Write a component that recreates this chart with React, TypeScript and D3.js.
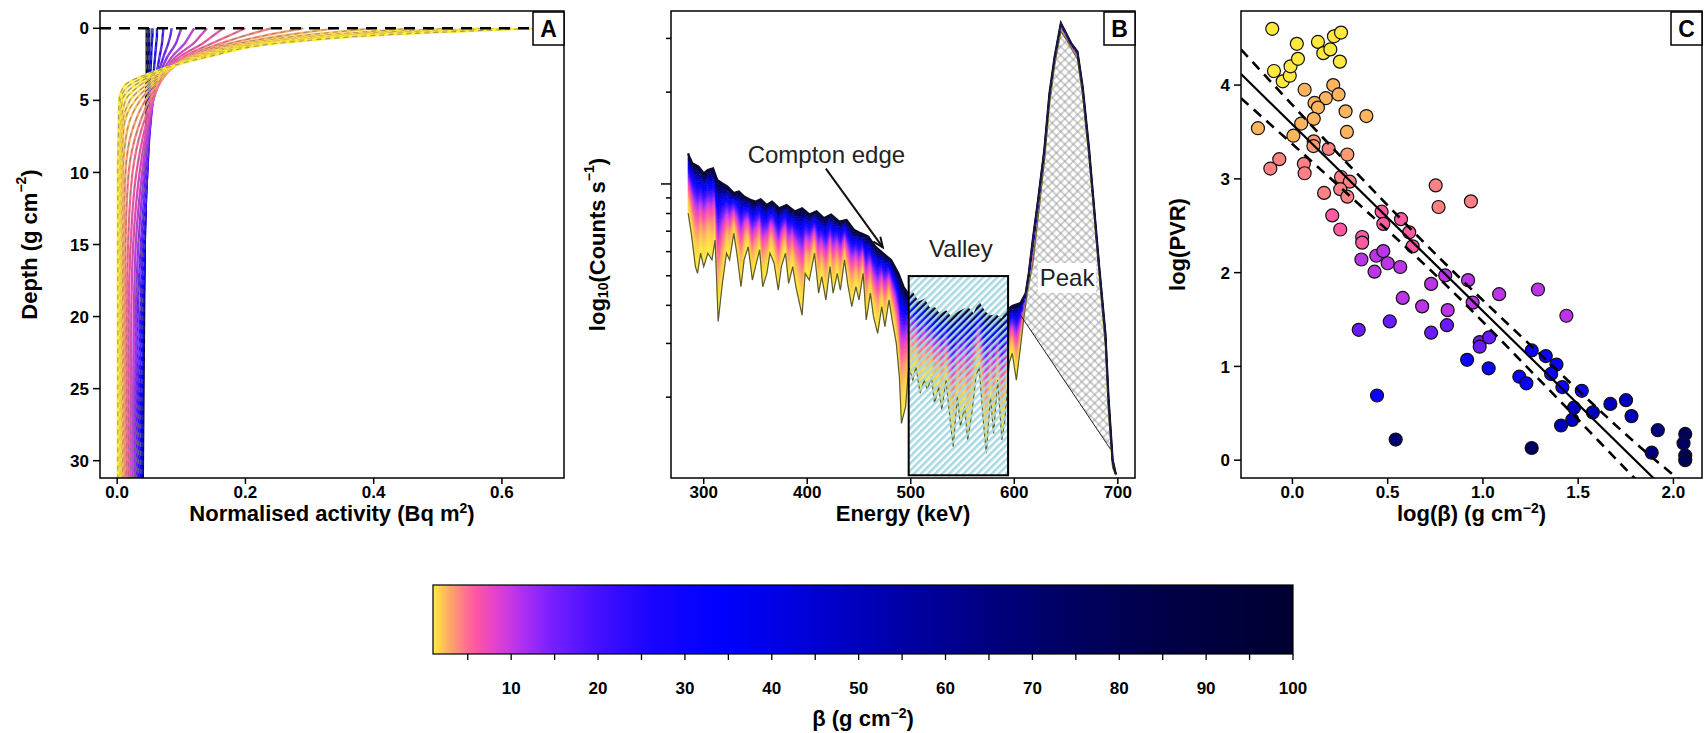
import React from "react";
import * as d3 from "d3";

const WIDTH = 1706;
const HEIGHT = 733;
const FONT = "'Liberation Sans', Arial, Helvetica, sans-serif";

// frame geometry shared by the three panels
const TOP = 11;
const BOTTOM = 478;
const A = { left: 100, right: 564 };
const B = { left: 671, right: 1135 };
const C = { left: 1241, right: 1702 };

// colour ramp of beta
const rampBeta = [1, 2.7, 4.4, 6, 8.4, 11.2, 14.5, 19.3, 26, 33.6, 44.4, 54.6, 64.8, 75, 85, 100];
const rampColor = [
  "#ffec3d", "#fdb060", "#ff7a8a", "#ff55a5", "#e040d0", "#b030f0", "#7a20ff", "#4a10ff",
  "#1a05ff", "#0000ff", "#0000d8", "#0000a8", "#000080", "#000060", "#000048", "#000030",
];

// ---- panel A: depth profiles
const depthGrid = [0, 0.5, 1, 2, 3, 4, 5, 7, 10, 15, 20, 31.2];
const profileBeta = [100, 70, 45, 30, 22, 17, 13, 10, 8, 6.5, 5, 4, 3.2, 2.5, 2, 1.75, 1.5, 1.3, 1.15, 1];
const profileActivity = [
  [0.046, 0.046, 0.046, 0.046, 0.046, 0.045, 0.045, 0.045, 0.044, 0.043, 0.042, 0.04],
  [0.05, 0.05, 0.05, 0.049, 0.049, 0.048, 0.048, 0.047, 0.045, 0.043, 0.041, 0.039],
  [0.055, 0.055, 0.054, 0.053, 0.052, 0.051, 0.05, 0.048, 0.046, 0.043, 0.04, 0.038],
  [0.062, 0.062, 0.061, 0.059, 0.057, 0.055, 0.053, 0.05, 0.047, 0.042, 0.039, 0.036],
  [0.072, 0.071, 0.07, 0.066, 0.062, 0.058, 0.055, 0.051, 0.047, 0.04, 0.036, 0.033],
  [0.085, 0.083, 0.08, 0.072, 0.065, 0.06, 0.056, 0.051, 0.045, 0.037, 0.032, 0.03],
  [0.1, 0.096, 0.092, 0.078, 0.068, 0.061, 0.056, 0.05, 0.042, 0.033, 0.029, 0.027],
  [0.12, 0.113, 0.106, 0.085, 0.071, 0.062, 0.056, 0.048, 0.039, 0.029, 0.026, 0.024],
  [0.14, 0.13, 0.12, 0.091, 0.074, 0.063, 0.056, 0.046, 0.035, 0.025, 0.022, 0.021],
  [0.165, 0.15, 0.135, 0.097, 0.077, 0.064, 0.056, 0.043, 0.03, 0.021, 0.018, 0.018],
  [0.2, 0.175, 0.15, 0.103, 0.079, 0.064, 0.054, 0.038, 0.024, 0.017, 0.015, 0.015],
  [0.24, 0.2, 0.165, 0.108, 0.08, 0.063, 0.05, 0.032, 0.018, 0.013, 0.012, 0.012],
  [0.29, 0.23, 0.18, 0.112, 0.08, 0.06, 0.044, 0.024, 0.013, 0.01, 0.01, 0.01],
  [0.34, 0.26, 0.195, 0.115, 0.078, 0.055, 0.036, 0.016, 0.009, 0.008, 0.008, 0.008],
  [0.4, 0.29, 0.21, 0.118, 0.077, 0.05, 0.028, 0.01, 0.007, 0.006, 0.006, 0.006],
  [0.46, 0.32, 0.22, 0.12, 0.074, 0.043, 0.02, 0.007, 0.005, 0.005, 0.005, 0.005],
  [0.52, 0.34, 0.23, 0.125, 0.071, 0.034, 0.013, 0.005, 0.004, 0.004, 0.004, 0.004],
  [0.57, 0.36, 0.24, 0.13, 0.068, 0.026, 0.008, 0.004, 0.003, 0.003, 0.003, 0.003],
  [0.615, 0.38, 0.25, 0.135, 0.064, 0.018, 0.005, 0.003, 0.002, 0.002, 0.002, 0.002],
  [0.655, 0.4, 0.26, 0.14, 0.058, 0.011, 0.003, 0.002, 0.001, 0.001, 0.001, 0.001],
];
const depthTicks = [0, 5, 10, 15, 20, 25, 30];
const activityTicks = [0, 0.2, 0.4, 0.6];

// ---- panel B: spectra envelopes (log10 counts)
const topEnergy = [
  285, 286, 289, 295, 300, 304, 309, 313, 318, 323, 329, 334, 339, 345, 350, 355, 361, 366, 373, 380,
  388, 395, 402, 409, 416, 423, 431, 438, 445, 452, 459, 466, 473, 481, 488, 493, 497, 502, 507, 513,
  518, 523, 528, 534, 539, 545, 550, 555, 561, 566, 571, 577, 582, 588, 593, 598, 606, 611, 614, 618,
  623, 629, 634, 639, 645, 650, 655, 661, 666, 672, 677, 682, 688, 691, 695, 698,
];
const topLog = [
  0.1, 0.09, 0.068, 0.057, 0.035, 0.046, 0.051, 0.013, 0.002, -0.009, -0.03, -0.025, -0.041, -0.052, -0.058, -0.05, -0.069, -0.058, -0.08, -0.069,
  -0.09, -0.08, -0.1, -0.09, -0.112, -0.1, -0.123, -0.118, -0.15, -0.162, -0.173, -0.206, -0.227, -0.249, -0.293, -0.337, -0.358, -0.36, -0.39, -0.38,
  -0.41, -0.408, -0.43, -0.419, -0.44, -0.424, -0.415, -0.408, -0.43, -0.391, -0.42, -0.435, -0.43, -0.446, -0.413, -0.4, -0.39, -0.358, -0.293, -0.18,
  -0.052, 0.111, 0.297, 0.417, 0.527, 0.494, 0.461, 0.434, 0.319, 0.122, -0.074, -0.271, -0.49, -0.7, -0.905, -0.95,
];
const bottomEnergy = [
  285, 288, 292, 294, 297, 300, 304, 308, 311, 314, 318, 322, 325, 329, 332, 336, 339, 343, 347, 350,
  354, 357, 361, 364, 368, 372, 375, 379, 382, 386, 389, 395, 398, 402, 407, 411, 414, 418, 422, 425,
  429, 432, 436, 439, 443, 447, 450, 454, 457, 461, 464, 468, 472, 475, 479, 482, 486, 489, 491, 495,
  498, 502, 505, 509, 513, 516, 520, 523, 527, 530, 534, 538, 541, 545, 548, 552, 555, 559, 563, 566,
  570, 573, 577, 580, 584, 588, 591, 595, 598, 602, 606, 609, 613, 618, 623, 629, 634, 639, 645, 650,
  655, 661, 666, 672, 677, 682, 688, 691, 695, 698,
];
const bottomLog = [
  -0.096, -0.162, -0.271, -0.293, -0.227, -0.271, -0.227, -0.249, -0.184, -0.451, -0.326, -0.227, -0.249, -0.162, -0.227, -0.337, -0.249, -0.206, -0.315, -0.271,
  -0.216, -0.337, -0.293, -0.227, -0.26, -0.348, -0.271, -0.227, -0.326, -0.271, -0.337, -0.43, -0.293, -0.315, -0.227, -0.358, -0.304, -0.38, -0.271, -0.358,
  -0.293, -0.348, -0.249, -0.326, -0.402, -0.337, -0.38, -0.293, -0.446, -0.358, -0.435, -0.49, -0.402, -0.468, -0.38, -0.446, -0.522, -0.632, -0.785, -0.73,
  -0.6, -0.643, -0.6, -0.686, -0.643, -0.675, -0.632, -0.72, -0.665, -0.741, -0.643, -0.774, -0.861, -0.697, -0.796, -0.73, -0.839, -0.752, -0.632, -0.6,
  -0.774, -0.883, -0.697, -0.818, -0.643, -0.839, -0.774, -0.588, -0.555, -0.643, -0.533, -0.446, -0.348, -0.26, -0.11, 0.07, 0.26, 0.39, 0.5, 0.475,
  0.445, 0.41, 0.29, 0.09, -0.1, -0.3, -0.53, -0.75, -0.93, -0.955,
];
const valleyEnergy = [498, 594];
const valleyLog = [-0.955, -0.302];
const peakLeft = [606, -0.43];
const peakRight = [693, -0.87];
const countTicks = [0.2, 0.3, 0.4, 0.5, 0.6, 0.7, 0.8, 0.9, 1, 2, 3];
const energyTicks = [300, 400, 500, 600, 700];

// ---- panel C: PVR against beta
const logBeta = [
  -0.106, -0.097, -0.051, -0.014, -0.01, 0.029, 0.023, 0.134, 0.162, 0.199, 0.218, 0.255, 0.249,
  0.064, 0.214, 0.242, 0.175, 0.116, 0.134, 0.112, 0.046, 0.279, 0.388, -0.181, 0.005, 0.286,
  0.112, 0.11, 0.19, 0.288, -0.069, -0.116, 0.06, 0.064, 0.255, 0.301, 0.166, 0.251, 0.288, 0.752, 0.767, 0.937,
  0.209, 0.251, 0.468, 0.477, 0.57, 0.613, 0.631, 0.366, 0.366,
  0.362, 0.44, 0.477, 0.5, 0.431, 0.566, 0.802, 0.922, 0.728, 0.579, 0.946, 1.085, 1.289, 0.681, 0.815, 1.438,
  0.511, 0.811, 0.728, 0.348, 0.983, 1.033, 0.983,
  0.917, 1.03, 1.256, 1.33, 1.386, 1.358, 1.191, 1.228, 1.417, 1.519, 0.444,
  1.478, 1.469, 1.41, 1.577, 1.669, 1.751, 1.78, 1.918, 1.886, 2.062, 2.053, 2.062, 2.062, 0.542, 1.256,
];
const logPVR = [
  4.6, 4.15, 4.04, 4.1, 4.2, 4.28, 4.44, 4.46, 4.34, 4.38, 4.52, 4.56, 4.25,
  3.95, 4.0, 3.9, 3.86, 3.81, 3.76, 3.64, 3.59, 3.72, 3.67, 3.54, 3.46, 3.5,
  3.4, 3.35, 3.32, 3.26, 3.21, 3.11, 3.16, 3.06, 3.02, 2.97, 2.85, 2.89, 2.81, 2.93, 2.7, 2.76,
  2.61, 2.46, 2.65, 2.52, 2.57, 2.43, 2.28, 2.38, 2.32,
  2.14, 2.18, 2.23, 2.1, 2.01, 2.06, 1.97, 1.92, 1.88, 1.73, 1.68, 1.77, 1.82, 1.64, 1.6, 1.54,
  1.48, 1.44, 1.36, 1.39, 1.26, 1.31, 1.21,
  1.07, 0.98, 1.17, 1.11, 1.02, 0.92, 0.89, 0.82, 0.78, 0.74, 0.69,
  0.56, 0.43, 0.37, 0.51, 0.6, 0.64, 0.47, 0.32, 0.08, 0.28, 0.18, 0.05, 0.0, 0.22, 0.13,
];
const pointBeta = [
  1.1, 1.1, 1.1, 1.1, 1.1, 1.1, 1.1, 1.1, 1.1, 1.1, 1.1, 1.1, 1.1,
  2.6, 2.6, 2.6, 2.6, 2.6, 2.6, 2.6, 2.6, 2.6, 2.6, 2.6, 2.6, 2.6,
  3.4, 3.4, 4.2, 3.4, 4.2, 4.2, 4.2, 4.2, 4.2, 4.2, 4.2, 4.2, 4.2, 4.2, 4.2, 4.2,
  5.8, 5.8, 5.8, 5.8, 5.8, 5.8, 5.8, 5.8, 5.8,
  10.5, 10.5, 10.5, 10.5, 10.5, 10.5, 10.5, 10.5, 10.5, 10.5, 10.5, 10.5, 10.5, 10.5, 10.5, 10.5,
  16, 16, 16, 16, 16, 16, 16,
  30, 30, 30, 30, 30, 30, 30, 30, 30, 30, 30,
  50, 50, 50, 50, 50, 50, 50, 65, 65, 75, 75, 75, 80, 70, 75,
];
const fitIntercept = 3.58;
const fitSlope = -1.99;
const bandX = [-0.27, 0.3, 0.8, 1.3, 1.9, 2.15];
const bandUpper = [4.38, 3.14, 2.1, 1.13, 0.01, -0.4];
const bandLower = [3.86, 2.82, 1.88, 0.85, -0.41, -0.93];
const pvrTicks = [0, 1, 2, 3, 4];
const logBetaTicks = [0, 0.5, 1, 1.5, 2];

// ---- colour bar
const barTicks = d3.range(5, 101, 5);

const beta = d3
  .scaleLinear<string>()
  .domain(rampBeta)
  .range(rampColor)
  .interpolate(d3.interpolateRgb)
  .clamp(true);

const TICK_FONT = { fontFamily: FONT, fontWeight: 700, fontSize: 17 } as const;
const TITLE_FONT = { fontFamily: FONT, fontWeight: 700, fontSize: 22 } as const;
const NOTE_FONT = { fontFamily: FONT, fontSize: 24, fill: "#222" } as const;

function Sup({ children }: { children: string }) {
  return (
    <>
      <tspan dy="-8" fontSize="14">
        {children}
      </tspan>
      <tspan dy="8">)</tspan>
    </>
  );
}

function Frame({ left, right, label }: { left: number; right: number; label: string }) {
  return (
    <g>
      <rect x={left} y={TOP} width={right - left} height={BOTTOM - TOP} fill="none" stroke="#000" strokeWidth={1.5} />
      <rect x={right - 31} y={TOP + 1} width={31} height={33} fill="#fff" stroke="#000" strokeWidth={1.5} />
      <text x={right - 15.5} y={TOP + 26} textAnchor="middle" style={{ ...TITLE_FONT, fontSize: 23 }}>
        {label}
      </text>
    </g>
  );
}

function LeftAxis({ x, scale, ticks, fmt }: any) {
  return (
    <g>
      {ticks.map((t: number) => (
        <g key={t}>
          <line x1={x - 7} x2={x} y1={scale(t)} y2={scale(t)} stroke="#000" strokeWidth={1.5} />
          <text x={x - 11} y={scale(t)} dy="0.36em" textAnchor="end" style={TICK_FONT}>
            {fmt(t)}
          </text>
        </g>
      ))}
    </g>
  );
}

function BottomAxis({ y, scale, ticks, fmt }: any) {
  return (
    <g>
      {ticks.map((t: number) => (
        <g key={t}>
          <line x1={scale(t)} x2={scale(t)} y1={y} y2={y + 6} stroke="#000" strokeWidth={1.5} />
          <text x={scale(t)} y={y + 20} textAnchor="middle" style={TICK_FONT}>
            {fmt(t)}
          </text>
        </g>
      ))}
    </g>
  );
}

function PanelA() {
  const x = d3.scaleLinear().domain([-0.0268, 0.6968]).range([A.left, A.right]);
  const y = d3.scaleLinear().domain([-1.2, 31.2]).range([TOP, BOTTOM]);
  const line = d3
    .line<number>()
    .x((d) => x(d))
    .y((d, i) => y(depthGrid[i]))
    .curve(d3.curveMonotoneY);

  return (
    <g>
      <defs>
        <clipPath id="clipA">
          <rect x={A.left} y={TOP} width={A.right - A.left} height={BOTTOM - TOP} />
        </clipPath>
      </defs>
      <g clipPath="url(#clipA)">
        {profileActivity.map((p, i) => (
          <g key={i}>
            <path d={line(p) || ""} fill="none" stroke={beta(profileBeta[i])} strokeWidth={2.3} />
            <path d={line(p) || ""} fill="none" stroke="#777" strokeOpacity={0.7} strokeWidth={1.1} strokeDasharray="5 4" />
          </g>
        ))}
        <line x1={A.left} x2={A.right} y1={y(0)} y2={y(0)} stroke="#000" strokeWidth={2.6} strokeDasharray="11 8" />
      </g>
      <LeftAxis x={A.left} scale={y} ticks={depthTicks} fmt={(t: number) => String(t)} />
      <BottomAxis y={BOTTOM} scale={x} ticks={activityTicks} fmt={d3.format(".1f")} />
      <text x={(A.left + A.right) / 2} y={BOTTOM + 43} textAnchor="middle" style={TITLE_FONT}>
        Normalised activity (Bq m<Sup>2</Sup>
      </text>
      <text transform={`translate(${A.left - 71},${(TOP + BOTTOM) / 2}) rotate(-90)`} textAnchor="middle" dominantBaseline="central" style={TITLE_FONT}>
        Depth (g cm<Sup>−2</Sup>
      </text>
      <Frame left={A.left} right={A.right} label="A" />
    </g>
  );
}

function PanelB() {
  const x = d3.scaleLinear().domain([268.4, 716.6]).range([B.left, B.right]);
  const y = d3.scaleLinear().domain([-0.964, 0.567]).range([BOTTOM, TOP]);
  const topAt = d3.scaleLinear().domain(topEnergy).range(topLog).clamp(true);
  const bottomAt = d3.scaleLinear().domain(bottomEnergy).range(bottomLog).clamp(true);
  const grid = Array.from(new Set([...topEnergy, ...bottomEnergy])).sort((a, b) => a - b);
  const level = (f: number) =>
    grid.map((e) => [x(e), y(bottomAt(e) + f * (topAt(e) - bottomAt(e)))] as [number, number]);

  // colour band between the lightest (yellow) and darkest spectrum
  const K = 40;
  const layers = d3.range(K).map((k) => {
    const upper = level((k + 1) / K);
    const lower = level(k / K).reverse();
    const f = (k + 0.5) / K;
    return { d: d3.line()([...upper, ...lower]) + "Z", c: beta(Math.pow(10, 2 * Math.pow(f, 1.35))) };
  });

  const pathOf = (es: number[], vs: number[]) =>
    d3.line<number>().x((e) => x(e)).y((e, i) => y(vs[i]))(es) || "";

  const peakPts: [number, number][] = [
    [x(peakLeft[0]), y(peakLeft[1])],
    ...topEnergy
      .map((e, i) => [e, topLog[i]])
      .filter(([e]) => e > peakLeft[0] && e < peakRight[0])
      .map(([e, v]) => [x(e), y(v)] as [number, number]),
    [x(peakRight[0]), y(peakRight[1])],
  ];

  const vx0 = x(valleyEnergy[0]);
  const vx1 = x(valleyEnergy[1]);
  const vy0 = y(valleyLog[1]);
  const vy1 = y(valleyLog[0]);

  const ax0 = x(418), ay0 = y(0.05);
  const ax1 = x(473), ay1 = y(-0.208);
  const ang = Math.atan2(ay1 - ay0, ax1 - ax0);
  const head = 11;
  const px = x(651), py = y(-0.308);

  return (
    <g>
      <defs>
        <clipPath id="clipB">
          <rect x={B.left} y={TOP} width={B.right - B.left} height={BOTTOM - TOP} />
        </clipPath>
        <pattern id="valleyHatch" patternUnits="userSpaceOnUse" width="5" height="5" patternTransform="rotate(45)">
          <rect width="2.6" height="5" fill="#a8d9e3" />
        </pattern>
        <pattern id="peakHatch" patternUnits="userSpaceOnUse" width="6" height="6" patternTransform="rotate(45)">
          <path d="M3 0V6M0 3H6" stroke="#8a8a8a" strokeWidth="0.8" />
        </pattern>
      </defs>
      <g clipPath="url(#clipB)">
        {layers.map((l, i) => (
          <path key={i} d={l.d} fill={l.c} stroke={l.c} strokeWidth={0.6} />
        ))}
        <path d={pathOf(bottomEnergy, bottomLog)} fill="none" stroke="#5b5a36" strokeWidth={1.2} />
        <path d={pathOf(topEnergy, topLog)} fill="none" stroke="#0b0b2e" strokeWidth={2.2} />
        <rect x={vx0} y={vy0} width={vx1 - vx0} height={vy1 - vy0} fill="url(#valleyHatch)" />
        <path d={(d3.line()(peakPts) || "") + "Z"} fill="url(#peakHatch)" stroke="none" />
        <line x1={x(peakLeft[0])} y1={y(peakLeft[1])} x2={x(peakRight[0])} y2={y(peakRight[1])} stroke="#222" strokeWidth={1} />
        <path
          d={pathOf(
            topEnergy.filter((e) => e > peakLeft[0]),
            topLog.filter((_, i) => topEnergy[i] > peakLeft[0])
          )}
          fill="none"
          stroke="#1a1a40"
          strokeWidth={1.6}
        />
        <rect x={vx0} y={vy0} width={vx1 - vx0} height={vy1 - vy0} fill="none" stroke="#000" strokeWidth={2} />
      </g>
      <text x={x(418.5)} y={y(0.095)} textAnchor="middle" dominantBaseline="central" style={NOTE_FONT}>
        Compton edge
      </text>
      <line x1={ax0} y1={ay0} x2={ax1} y2={ay1} stroke="#111" strokeWidth={2} />
      <path
        d={`M${ax1 - head * Math.cos(ang - 0.4)},${ay1 - head * Math.sin(ang - 0.4)}L${ax1},${ay1}L${ax1 - head * Math.cos(ang + 0.4)},${ay1 - head * Math.sin(ang + 0.4)}`}
        fill="none"
        stroke="#111"
        strokeWidth={2}
      />
      <text x={x(548.4)} y={y(-0.211)} textAnchor="middle" dominantBaseline="central" style={NOTE_FONT}>
        Valley
      </text>
      <rect x={px - 29} y={py - 15} width={58} height={30} fill="#fff" />
      <text x={px} y={py} textAnchor="middle" dominantBaseline="central" style={NOTE_FONT}>
        Peak
      </text>
      {countTicks.map((t) => (
        <line key={t} x1={B.left - (t === 1 ? 10 : 5)} x2={B.left} y1={y(Math.log10(t))} y2={y(Math.log10(t))} stroke="#000" strokeWidth={1.5} />
      ))}
      <BottomAxis y={BOTTOM} scale={x} ticks={energyTicks} fmt={(t: number) => String(t)} />
      <text x={(B.left + B.right) / 2} y={BOTTOM + 43} textAnchor="middle" style={TITLE_FONT}>
        Energy (keV)
      </text>
      <text transform={`translate(${B.left - 74},${(TOP + BOTTOM) / 2}) rotate(-90)`} textAnchor="middle" dominantBaseline="central" style={TITLE_FONT}>
        log<tspan dy="6" fontSize="14">10</tspan>
        <tspan dy="-6">(Counts s</tspan>
        <Sup>−1</Sup>
      </text>
      <Frame left={B.left} right={B.right} label="B" />
    </g>
  );
}

function PanelC() {
  const x = d3.scaleLinear().domain([-0.27, 2.15]).range([C.left, C.right]);
  const y = d3.scaleLinear().domain([-0.19, 4.79]).range([BOTTOM, TOP]);
  const fitX = x.domain();
  const band = d3
    .line<number>()
    .x((d, i) => x(bandX[i]))
    .y((d) => y(d))
    .curve(d3.curveMonotoneX);

  return (
    <g>
      <defs>
        <clipPath id="clipC">
          <rect x={C.left} y={TOP} width={C.right - C.left} height={BOTTOM - TOP} />
        </clipPath>
      </defs>
      <g clipPath="url(#clipC)">
        {logBeta.map((b, i) => (
          <circle key={i} cx={x(b)} cy={y(logPVR[i])} r={6.5} fill={beta(pointBeta[i])} stroke="#111" strokeWidth={1.2} />
        ))}
        <line
          x1={x(fitX[0])}
          y1={y(fitIntercept + fitSlope * fitX[0])}
          x2={x(fitX[1])}
          y2={y(fitIntercept + fitSlope * fitX[1])}
          stroke="#000"
          strokeWidth={2.2}
        />
        <path d={band(bandUpper) || ""} fill="none" stroke="#000" strokeWidth={2.6} strokeDasharray="10 7" />
        <path d={band(bandLower) || ""} fill="none" stroke="#000" strokeWidth={2.6} strokeDasharray="10 7" />
      </g>
      <LeftAxis x={C.left} scale={y} ticks={pvrTicks} fmt={(t: number) => String(t)} />
      <BottomAxis y={BOTTOM} scale={x} ticks={logBetaTicks} fmt={d3.format(".1f")} />
      <text x={(C.left + C.right) / 2} y={BOTTOM + 43} textAnchor="middle" style={TITLE_FONT}>
        log(β) (g cm<Sup>−2</Sup>
      </text>
      <text transform={`translate(${C.left - 64},${(TOP + BOTTOM) / 2}) rotate(-90)`} textAnchor="middle" dominantBaseline="central" style={TITLE_FONT}>
        log(PVR)
      </text>
      <Frame left={C.left} right={C.right} label="C" />
    </g>
  );
}

function ColourBar() {
  const x0 = 433, x1 = 1293, y0 = 585, y1 = 654;
  const x = d3.scaleLinear().domain([1, 100]).range([x0, x1]);
  const stops = d3.range(1, 101, 1);
  return (
    <g>
      <defs>
        <linearGradient id="betaRamp" x1="0" x2="1" y1="0" y2="0">
          {stops.map((s) => (
            <stop key={s} offset={(s - 1) / 99} stopColor={beta(s)} />
          ))}
        </linearGradient>
      </defs>
      <rect x={x0} y={y0} width={x1 - x0} height={y1 - y0} fill="url(#betaRamp)" stroke="#000" strokeWidth={1.2} />
      {barTicks.map((t) => (
        <g key={t}>
          <line x1={x(t)} x2={x(t)} y1={y1} y2={y1 + 6} stroke="#000" strokeWidth={1.3} />
          {t % 10 === 0 && (
            <text x={x(t)} y={y1 + 40} textAnchor="middle" style={TICK_FONT}>
              {t}
            </text>
          )}
        </g>
      ))}
      <text x={(x0 + x1) / 2} y={y1 + 72} textAnchor="middle" style={TITLE_FONT}>
        β (g cm<Sup>−2</Sup>
      </text>
    </g>
  );
}

export default function App() {
  return (
    <>
      <style>{"body{margin:0}"}</style>
      <svg width={WIDTH} height={HEIGHT} style={{ display: "block", background: "#fff" }}>
        <PanelA />
        <PanelB />
        <PanelC />
        <ColourBar />
      </svg>
    </>
  );
}
